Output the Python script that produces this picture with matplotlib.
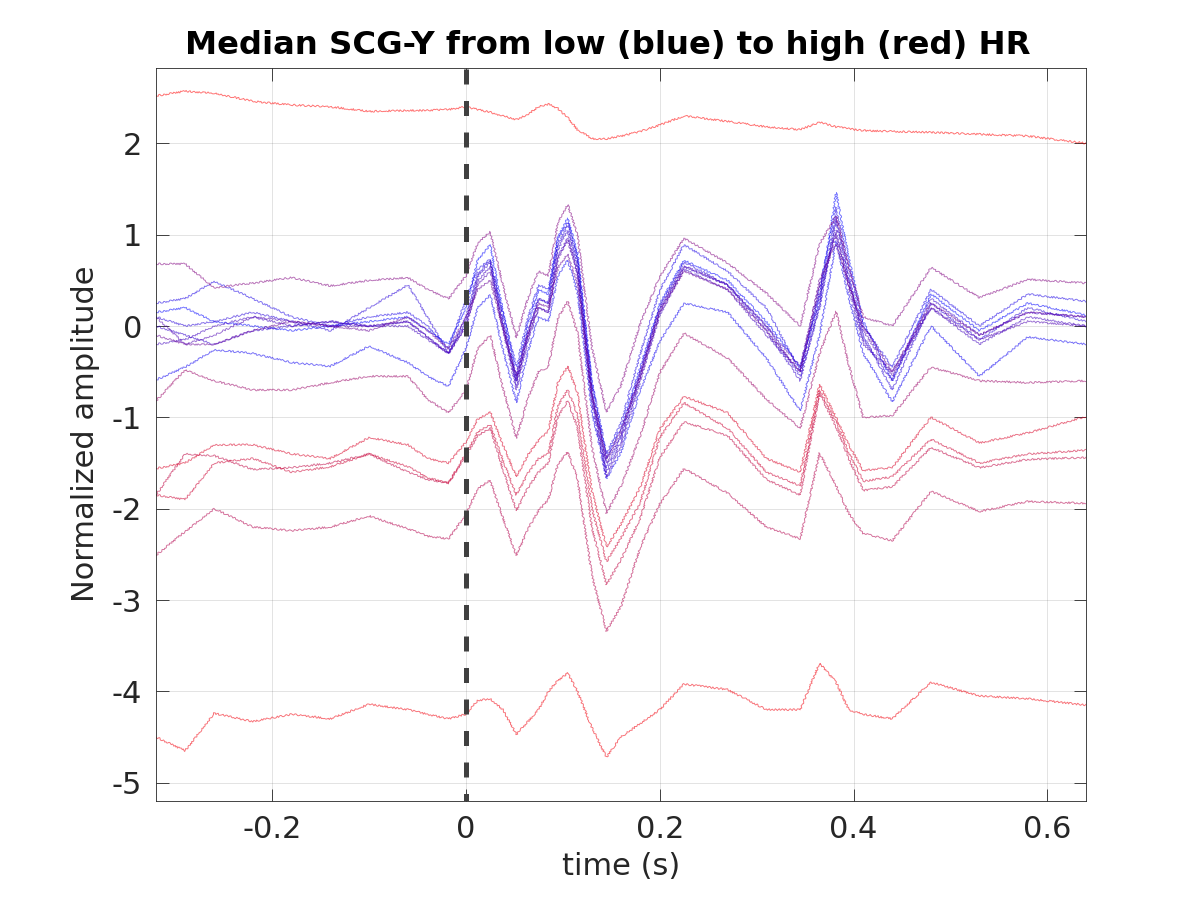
import matplotlib
matplotlib.use("Agg")
import matplotlib.pyplot as plt
import numpy as np

plt.rcParams["font.family"] = "DejaVu Sans"
plt.rcParams["axes.unicode_minus"] = False

# time grid (s) shared by all median beats
t = [-0.32, -0.29, -0.26, -0.22, -0.18, -0.14, -0.10, -0.06, -0.04, -0.018,
     0.0, 0.012, 0.025, 0.038, 0.052, 0.064, 0.075, 0.085, 0.095, 0.105,
     0.115, 0.13, 0.145, 0.16, 0.18, 0.2, 0.225, 0.27, 0.31, 0.345,
     0.365, 0.382, 0.395, 0.41, 0.44, 0.48, 0.53, 0.58, 0.64]

# median SCG-Y beats, ordered from low to high heart rate
beat_01 = [0.15, 0.2, 0.05, 0.0, -0.05, 0.0, 0.05, 0.1, -0.05, -0.2, 0.2, 0.72, 0.89, 0.17, -0.55, 0.02, 0.4, 0.35, 0.97, 1.18,
           0.8, -0.63, -1.45, -1.12, -0.45, 0.24, 0.72, 0.5, 0.05, -0.45, 0.3, 1.46, 0.75, 0.05, -0.6, 0.35, -0.05, 0.25, 0.12]
beat_02 = [-0.59, -0.45, -0.26, -0.3, -0.4, -0.44, -0.22, -0.4, -0.55, -0.66, -0.24, 0.2, 0.34, -0.25, -0.84, -0.28, 0.1, 0.05, 0.55, 0.72,
           0.37, -0.93, -1.67, -1.38, -0.7, -0.17, 0.25, 0.15, -0.35, -0.93, -0.1, 0.93, 0.32, -0.3, -0.83, 0.0, -0.55, -0.12, -0.2]
beat_03 = [0.25, 0.3, 0.49, 0.3, 0.1, 0.0, 0.1, 0.15, 0.0, -0.25, 0.3, 0.62, 0.73, 0.14, -0.45, 0.09, 0.45, 0.4, 0.95, 1.13,
           0.76, -0.62, -1.4, -1.06, -0.3, 0.39, 0.89, 0.6, 0.2, -0.5, 0.4, 1.3, 0.65, 0.0, -0.45, 0.4, 0.0, 0.35, 0.27]
beat_04 = [0.1, 0.0, 0.05, 0.15, 0.05, -0.05, 0.2, 0.45, 0.1, -0.3, 0.1, 0.57, 0.72, 0.06, -0.6, -0.06, 0.3, 0.25, 0.89, 1.1,
           0.71, -0.73, -1.55, -1.21, -0.5, 0.21, 0.7, 0.45, 0.0, -0.55, 0.2, 1.2, 0.55, -0.1, -0.7, 0.25, -0.15, 0.2, 0.05]
beat_05 = [0.0, -0.1, -0.2, -0.05, 0.0, 0.05, 0.0, 0.05, -0.12, -0.3, 0.05, 0.54, 0.7, 0.03, -0.65, -0.08, 0.3, 0.25, 0.84, 1.04,
           0.65, -0.78, -1.6, -1.26, -0.55, 0.16, 0.65, 0.45, -0.05, -0.6, 0.25, 1.15, 0.5, -0.15, -0.6, 0.3, -0.1, 0.15, 0.1]
beat_06 = [-0.2, -0.15, 0.0, 0.1, 0.0, 0.05, 0.0, 0.0, -0.15, -0.3, 0.0, 0.49, 0.65, -0.03, -0.7, -0.16, 0.2, 0.15, 0.76, 0.96,
           0.58, -0.84, -1.65, -1.31, -0.6, 0.12, 0.62, 0.4, -0.1, -0.5, 0.35, 1.05, 0.42, -0.2, -0.5, 0.2, -0.2, 0.1, 0.0]
beat_07 = [0.1, -0.2, -0.1, 0.1, 0.05, 0.0, 0.0, 0.05, -0.12, -0.3, 0.0, 0.45, 0.6, 0.0, -0.6, -0.12, 0.2, 0.15, 0.74, 0.94,
           0.58, -0.74, -1.5, -1.18, -0.5, 0.18, 0.66, 0.45, 0.0, -0.45, 0.45, 1.0, 0.48, -0.05, -0.55, 0.2, -0.15, 0.05, 0.0]
beat_08 = [-0.1, -0.2, -0.2, -0.05, 0.05, 0.0, -0.05, 0.1, -0.05, -0.25, 0.1, 0.4, 0.5, -0.02, -0.55, -0.07, 0.25, 0.2, 0.64, 0.79,
           0.46, -0.76, -1.45, -1.14, -0.55, 0.15, 0.6, 0.4, -0.05, -0.5, 0.5, 0.9, 0.45, 0.0, -0.5, 0.25, -0.1, 0.15, 0.1]
beat_09 = [0.68, 0.68, 0.42, 0.47, 0.53, 0.44, 0.5, 0.53, 0.4, 0.3, 0.55, 0.91, 1.03, 0.45, -0.13, 0.31, 0.6, 0.55, 1.14, 1.33,
           1.0, -0.24, -0.94, -0.65, 0.03, 0.54, 0.96, 0.69, 0.36, 0.0, 0.9, 1.2, 0.65, 0.1, 0.0, 0.64, 0.31, 0.51, 0.47]
beat_10 = [-0.82, -0.48, -0.6, -0.7, -0.7, -0.62, -0.55, -0.55, -0.8, -0.95, -0.7, -0.25, -0.1, -0.67, -1.23, -0.79, -0.5, -0.45, 0.09, 0.27,
           -0.07, -1.33, -2.05, -1.75, -1.2, -0.51, -0.08, -0.35, -0.8, -1.12, -0.3, 0.16, -0.42, -1.0, -0.98, -0.45, -0.6, -0.62, -0.6]
beat_11 = [-2.51, -2.25, -2.0, -2.2, -2.24, -2.2, -2.08, -2.22, -2.3, -2.33, -2.06, -1.78, -1.69, -2.1, -2.51, -2.22, -2.02, -1.9, -1.51, -1.38,
           -1.67, -2.73, -3.34, -3.07, -2.42, -1.95, -1.56, -1.83, -2.2, -2.33, -1.39, -1.75, -2.05, -2.27, -2.35, -1.81, -2.03, -1.92, -1.94]
beat_12 = [-1.85, -1.4, -1.42, -1.57, -1.55, -1.5, -1.4, -1.6, -1.68, -1.72, -1.42, -1.2, -1.12, -1.57, -2.02, -1.77, -1.6, -1.5, -0.99, -0.82,
           -1.11, -2.21, -2.83, -2.56, -2.1, -1.44, -1.05, -1.2, -1.68, -1.85, -0.74, -1.1, -1.45, -1.8, -1.76, -1.33, -1.55, -1.46, -1.44]
beat_13 = [-1.85, -1.9, -1.5, -1.45, -1.6, -1.54, -1.4, -1.54, -1.66, -1.72, -1.39, -1.16, -1.08, -1.47, -1.85, -1.61, -1.45, -1.4, -0.87, -0.7,
           -0.97, -2.0, -2.58, -2.32, -1.93, -1.22, -0.84, -1.12, -1.6, -1.75, -0.7, -1.05, -1.38, -1.7, -1.65, -1.24, -1.5, -1.4, -1.36]
beat_14 = [-1.56, -1.5, -1.3, -1.3, -1.4, -1.45, -1.22, -1.3, -1.45, -1.5, -1.27, -1.02, -0.94, -1.3, -1.65, -1.41, -1.25, -1.15, -0.62, -0.44,
           -0.73, -1.81, -2.42, -2.17, -1.76, -1.13, -0.77, -0.95, -1.45, -1.6, -0.64, -1.0, -1.3, -1.58, -1.55, -1.0, -1.28, -1.17, -0.99]
beat_15 = [-4.5, -4.65, -4.24, -4.33, -4.25, -4.3, -4.14, -4.2, -4.25, -4.3, -4.25, -4.1, -4.08, -4.2, -4.47, -4.33, -4.2, -4.0, -3.88, -3.8,
           -4.0, -4.4, -4.72, -4.5, -4.35, -4.2, -3.92, -3.98, -4.2, -4.2, -3.69, -3.9, -4.2, -4.25, -4.3, -3.9, -4.05, -4.08, -4.15]
beat_16 = [2.52, 2.57, 2.55, 2.46, 2.42, 2.4, 2.35, 2.36, 2.36, 2.37, 2.4, 2.37, 2.34, 2.3, 2.26, 2.32, 2.4, 2.43, 2.38, 2.28,
           2.15, 2.05, 2.05, 2.08, 2.13, 2.2, 2.3, 2.24, 2.18, 2.15, 2.23, 2.18, 2.16, 2.14, 2.13, 2.12, 2.1, 2.08, 2.0]

beats = [beat_01, beat_02, beat_03, beat_04, beat_05, beat_06, beat_07, beat_08,
         beat_09, beat_10, beat_11, beat_12, beat_13, beat_14, beat_15, beat_16]

# relative heart rate of each beat (0 = lowest, 1 = highest)
hr_level = [0.0, 0.05, 0.1, 0.15, 0.2, 0.25, 0.3, 0.4,
            0.5, 0.6, 0.7, 0.75, 0.8, 0.85, 0.95, 1.0]

xticks = [-0.2, 0, 0.2, 0.4, 0.6]
yticks = [-5, -4, -3, -2, -1, 0, 1, 2]

fig = plt.figure(figsize=(12, 9), dpi=100)
ax = fig.add_axes([0.13, 0.11, 0.775, 0.815])

for y, c in zip(beats, hr_level):
    ln, = ax.plot(t, y, color=(c, 0, 1 - c), alpha=0.55, linewidth=0.7)
    # light jitter so the medians look like recorded traces
    ln.set_sketch_params(scale=0.9, length=4, randomness=3)

# R-peak marker
ax.axvline(0, color="#404040", linestyle=(1.5, (3, 3.3)), linewidth=3.6, zorder=5)

ax.set_xlim(-0.32, 0.64)
ax.set_ylim(-5.2, 2.83)
ax.set_xticks(xticks)
ax.set_xticklabels([f"{v:g}" for v in xticks])
ax.set_yticks(yticks)
ax.set_yticklabels([f"{v:g}" for v in yticks])

ax.grid(True, color="#262626", alpha=0.15, linewidth=0.6)
ax.tick_params(direction="in", length=9, width=0.6, colors="#262626",
               labelsize=22, top=True, right=True, pad=10)
for s in ax.spines.values():
    s.set_color("#262626")
    s.set_linewidth(0.6)

ax.set_title("Median SCG-Y from low (blue) to high (red) HR", fontsize=23.2,
             fontweight="bold", pad=10, x=0.486)
ax.set_xlabel("time (s)", fontsize=22, color="#262626", labelpad=6)
ax.set_ylabel("Normalized amplitude", fontsize=22, color="#262626", labelpad=8)

fig.savefig("out.png", dpi=100)
